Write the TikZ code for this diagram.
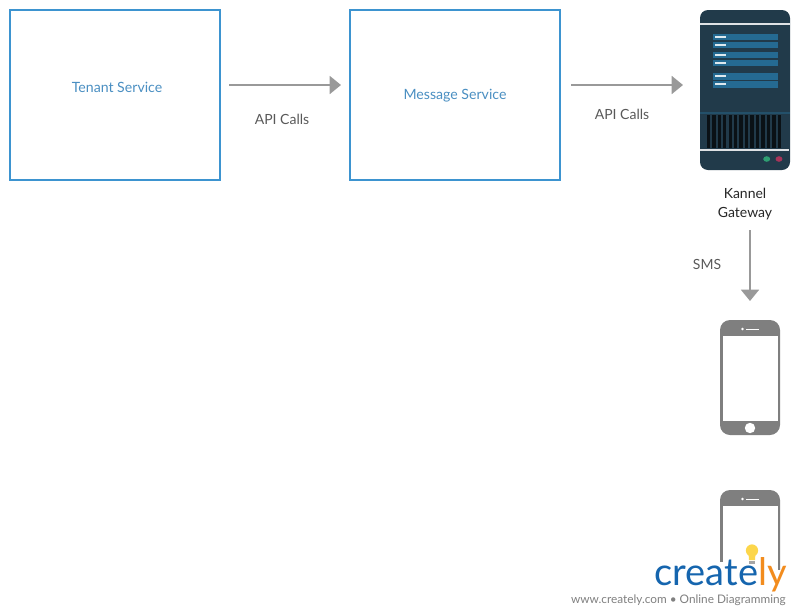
\documentclass[tikz,border=0pt]{standalone}
\usepackage{fontspec}
\setmainfont{Lato}
\usetikzlibrary{arrows.meta}
\definecolor{boxblue}{HTML}{3D94D0}
\definecolor{textblue}{HTML}{4A8FC2}
\definecolor{linegrey}{HTML}{999999}
\definecolor{phonegrey}{HTML}{7F7F7F}
\definecolor{serverdark}{HTML}{213A4A}
\definecolor{serverbar}{HTML}{256A92}
\definecolor{ledgreen}{HTML}{2F9E72}
\definecolor{ledred}{HTML}{A8345A}
\definecolor{logoblue}{HTML}{1565AE}
\definecolor{logoorange}{HTML}{F28C1E}
\tikzset{
  servicebox/.style={draw=boxblue,line width=1.5pt,fill=white,minimum width=157.5pt,minimum height=127.5pt,inner sep=0pt},
  servicetext/.style={text=textblue,font=\fontsize{10.6pt}{12pt}\selectfont},
  calltext/.style={text=black!65,font=\fontsize{10.5pt}{12pt}\selectfont},
  callline/.style={draw=linegrey,line width=1.4pt,-{Triangle[length=8.5pt,width=13.5pt]}},
}
\begin{document}
\begin{tikzpicture}[x=0.75pt,y=-0.75pt]
  \useasboundingbox (0,0) rectangle (800,615);

  \node[servicebox] (tenant) at (115,95) {};
  \node[servicebox] (message) at (455,95) {};
  \node[servicetext] (tenantlabel) at (117,87) {Tenant Service};
  \node[servicetext] (messagelabel) at (455,96) {Message Service};

  % server
  \fill[serverdark,rounded corners=6pt] (700,10) rectangle (790,170);
  \fill[white!85!serverdark] (700,23.3) rectangle (790,24.8);
  \fill[white!85!serverdark] (700,149.2) rectangle (789,150.8);
  \fill[serverbar!45!serverdark] (700,112) rectangle (790,114);
  \foreach \y in {33.5,41.5,51.5,59.5,73,81}{
      \fill[serverbar] (713,\y) rectangle (778,\y+6.5);
      \fill[white!85!serverbar] (714.5,\y+2.2) rectangle (726,\y+4.2);
    }
  \foreach \i in {0,...,13}{
      \fill[black!70!serverdark] ({706.7+5.45*\i},115) rectangle ({710.1+5.45*\i},148);
    }
  \fill[ledgreen] (766.7,159) ellipse (2.6pt and 2.1pt);
  \fill[ledred] (779,159) ellipse (2.6pt and 2.1pt);

  \node[align=center,text=black!85,font=\fontsize{10.5pt}{14.2pt}\selectfont] (kannel) at (745,204) {Kannel\\Gateway};

  % phones
  \foreach \y/\h in {320/120,490/80}{
      \begin{scope}
        \clip (715,\y-2) rectangle (785,\y+\h);
        \fill[phonegrey,rounded corners=7.5pt] (720,\y) rectangle (780,\y+115);
        \fill[white] (723,\y+16) rectangle (778,\y+101);
        \fill[white] (750,\y+108) circle (3.9pt);
        \fill[white] (742.5,\y+9) circle (1pt);
        \fill[white] (746,\y+8.6) rectangle (759,\y+9.5);
      \end{scope}
    }

  \coordinate (call1a) at (229,85);
  \coordinate (call1b) at (341,85);
  \coordinate (call2a) at (571,85);
  \coordinate (call2b) at (683,85);
  \coordinate (call3a) at (750,230);
  \coordinate (call3b) at (750,301);
  \draw[callline] (call1a) -- (call1b);
  \draw[callline] (call2a) -- (call2b);
  \draw[callline] (call3a) -- (call3b);
  \node[calltext] (call1label) at (282,119) {API Calls};
  \node[calltext] (call2label) at (622,114) {API Calls};
  \node[calltext] (call3label) at (707,264) {SMS};

  % logo
  \fill[white] (715,562) rectangle (771,572);
  \fill[white] (665,570) rectangle (790,590);
  \fill[white] (568,592) rectangle (790,607);
  \fill[yellow!60!orange!70] (752,550.5) circle (4.6pt);
  \fill[yellow!60!orange!70] (748.5,553) -- (755.5,553) -- (755,560) -- (749,560) -- cycle;
  \fill[black!35] (749,560.5) rectangle (755,563.5);
  \node[inner sep=0pt,font=\fontsize{28.5pt}{30pt}\selectfont,anchor=base east] (logo) at (787,585) {\textcolor{logoblue}{create}\textcolor{logoorange}{ly}};
  \node[text=black!50,font=\fontsize{8.85pt}{10pt}\selectfont,anchor=base east,inner sep=0pt] (tagline) at (786,603) {www.creately.com • Online Diagramming};
\end{tikzpicture}
\end{document}
